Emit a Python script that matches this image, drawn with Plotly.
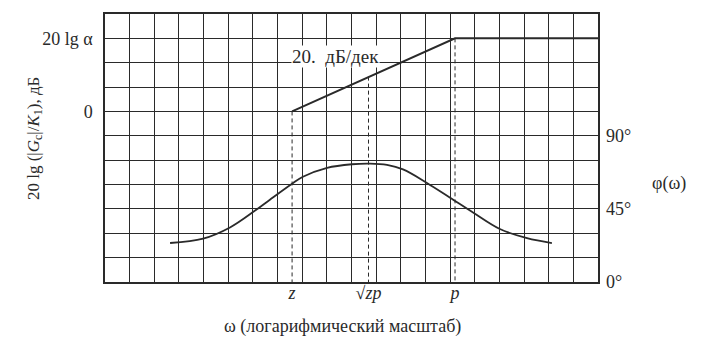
import plotly.graph_objects as go

# ---- data (x in grid units along log-frequency axis) ----
freq_labels = ["<i>z</i>", "√<i>zp</i>", "<i>p</i>"]
freq_pos = [7.59, 10.69, 14.2]

# asymptotic magnitude (units: 20 lg α = 3)
mag_x = [7.59, 14.2, 20.0]
mag_y = [0.0, 3.0, 3.0]

# phase curve (degrees)
phase_x = [2.64, 3.98, 5.07, 6.09, 6.69, 7.59, 8.03, 9.01, 10.02, 10.75,
           11.44, 12.09, 13.06, 14.0, 14.93, 16.02, 17.12, 18.13]
phase_y = [24.0, 26.7, 33.6, 44.0, 50.7, 60.5, 64.8, 70.3, 72.5, 72.9,
           72.1, 69.3, 61.0, 51.9, 42.8, 32.6, 27.0, 24.0]

# dashed guide tops (magnitude units)
guide_top = [0.0, 1.43, 3.0]

mag_ticks = [0, 3]
mag_ticktext = ["0", "20 lg α"]
phase_ticks = [0, 45, 90]
phase_ticktext = ["0°", "45°", "90°"]

INK = "#2a2a2a"
FONT = "Liberation Serif, Times New Roman, serif"

fig = go.Figure()

fig.add_trace(go.Scatter(x=mag_x, y=mag_y, mode="lines",
                         line=dict(color=INK, width=2), xaxis="x", yaxis="y",
                         showlegend=False, hoverinfo="skip"))
fig.add_trace(go.Scatter(x=phase_x, y=phase_y, mode="lines",
                         line=dict(color=INK, width=1.8, shape="spline", smoothing=1.0),
                         xaxis="x", yaxis="y2", showlegend=False, hoverinfo="skip"))
for xp, top in zip(freq_pos, guide_top):
    fig.add_trace(go.Scatter(x=[xp, xp], y=[top, -7], mode="lines",
                             line=dict(color=INK, width=1, dash="4px,3px"),
                             xaxis="x2", yaxis="y", showlegend=False, hoverinfo="skip"))

grid_y = list(range(-7, 5))
grid_x = list(range(0, 21))

fig.update_layout(
    width=694, height=350,
    margin=dict(l=97, r=104, t=4, b=76),
    paper_bgcolor="white", plot_bgcolor="white",
    font=dict(family=FONT, color=INK, size=18),
    xaxis=dict(range=[0, 20], tickmode="array", tickvals=grid_x,
               ticktext=[" "] * len(grid_x), showgrid=True, gridcolor=INK,
               gridwidth=1.2, showline=True, linecolor=INK, linewidth=1.5,
               mirror=True, zeroline=False, ticks=""),
    xaxis2=dict(range=[0, 20], overlaying="x", side="bottom", tickmode="array",
                tickvals=freq_pos, ticktext=freq_labels, showgrid=False,
                zeroline=False, showline=False, ticks="", ticklabelstandoff=-2,
                tickfont=dict(size=18, family=FONT)),
    yaxis=dict(range=[-7, 4], tickmode="array", tickvals=grid_y,
               ticktext=[mag_ticktext[mag_ticks.index(v)] if v in mag_ticks else " " for v in grid_y],
               showgrid=True, gridcolor=INK, gridwidth=1.2, showline=True,
               linecolor=INK, linewidth=1.5, mirror=True, zeroline=False,
               ticks="", ticklabelstandoff=7, tickfont=dict(size=18)),
    yaxis2=dict(range=[0, 165], overlaying="y", side="right", tickmode="array",
                tickvals=phase_ticks, ticktext=phase_ticktext, showgrid=False,
                zeroline=False, showline=False, ticks="", ticklabelstandoff=7,
                tickfont=dict(size=18)),
    annotations=[
        dict(text="20.\u00a0\u00a0дБ/дек", x=9.35, y=2.25, xref="x", yref="y",
             showarrow=False, bgcolor="white", font=dict(size=19), borderpad=0,
             xanchor="center", yanchor="middle"),
        dict(text="20 lg (|<i>G</i><sub>c</sub>|/<i>K</i><sub>1</sub>), дБ",
             x=-0.142, y=0.537, xref="paper", yref="paper", textangle=-90,
             showarrow=False, font=dict(size=17), xanchor="center", yanchor="middle"),
        dict(text="φ(ω)", x=1.144, y=0.367, xref="paper", yref="paper",
             showarrow=False, font=dict(size=18), xanchor="center", yanchor="middle"),
        dict(text="ω (логарифмический масштаб)", x=0.481, y=-0.167,
             xref="paper", yref="paper", showarrow=False, font=dict(size=18),
             xanchor="center", yanchor="middle"),
    ],
)

fig.write_html("out.html")
